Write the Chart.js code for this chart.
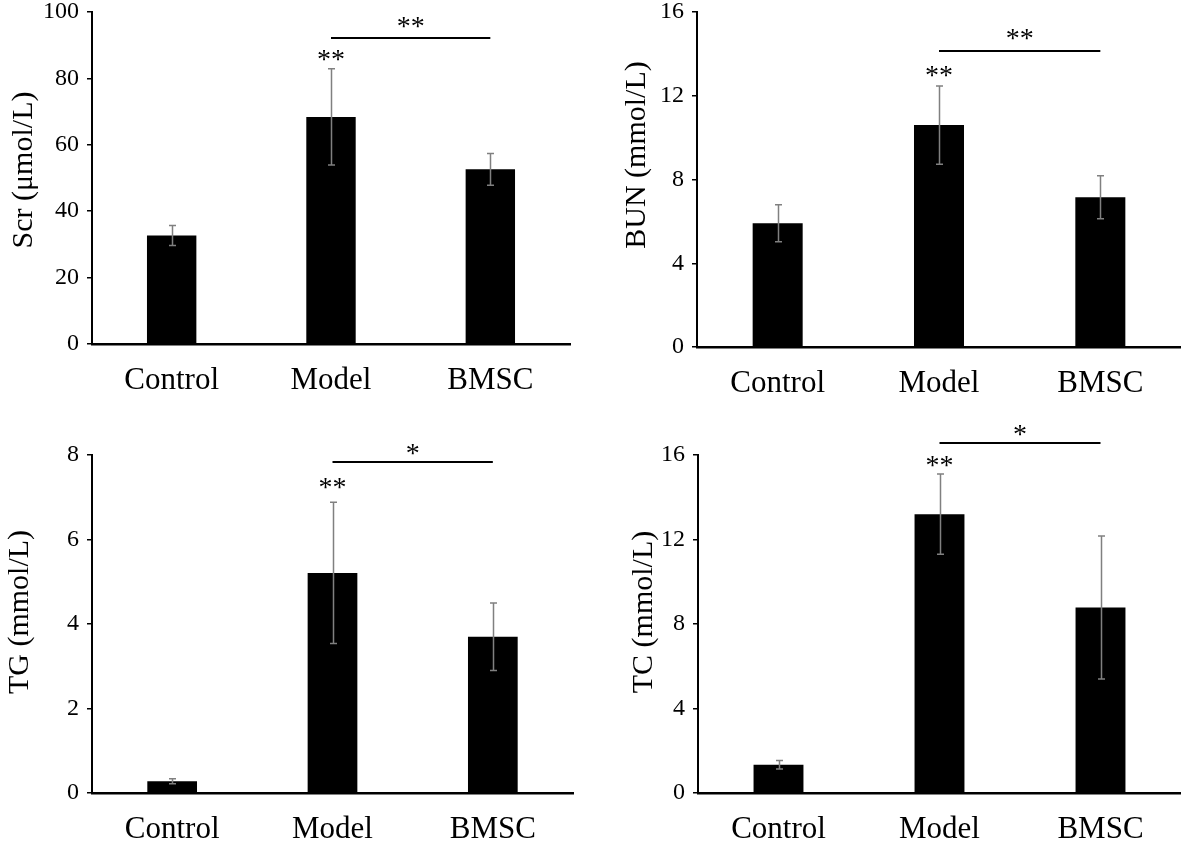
<!DOCTYPE html>
<html>
<head>
<meta charset="utf-8">
<script src="https://cdn.jsdelivr.net/npm/chart.js@4.4.0/dist/chart.umd.min.js"></script>
<style>
  html, body { margin: 0; padding: 0; background: #fff; }
  #wrap { position: relative; width: 1181px; height: 843px; }
  canvas { position: absolute; }
</style>
</head>
<body>
<div id="wrap">
  <canvas id="scrChart" width="590" height="420" style="left:0;top:0"></canvas>
  <canvas id="bunChart" width="591" height="420" style="left:590px;top:0"></canvas>
  <canvas id="tgChart" width="590" height="423" style="left:0;top:420px"></canvas>
  <canvas id="tcChart" width="591" height="423" style="left:590px;top:420px"></canvas>
</div>
<script>
// groups and values (mean, error bar half-length)
const groups = ["Control", "Model", "BMSC"];
const scrMean = [32.7, 68.4, 52.6];
const scrErr = [3.0, 14.5, 4.8];
const bunMean = [5.91, 10.6, 7.15];
const bunErr = [0.88, 1.87, 1.03];
const tgMean = [0.28, 5.21, 3.7];
const tgErr = [0.06, 1.67, 0.8];
const tcMean = [1.34, 13.2, 8.78];
const tcErr = [0.2, 1.9, 3.38];

// y axis: max and step
const scrAxis = [100, 20];
const bunAxis = [16, 4];
const tgAxis = [8, 2];
const tcAxis = [16, 4];

// significance marks: Model vs Control, Model vs BMSC
const modelMarks = ["**", "**", "**", "**"];
const pairMarks = ["**", "**", "*", "*"];

const serif = "'Liberation Serif', 'Times New Roman', serif";

// error bars, significance marks and rotated y title
const extras = {
  id: "extras",
  afterDatasetsDraw(chart, args, o) {
    const ctx = chart.ctx;
    const y = chart.scales.y;
    const bars = chart.getDatasetMeta(0).data;
    ctx.save();
    ctx.strokeStyle = "#808080";
    ctx.lineWidth = 1.5;
    o.mean.forEach((m, i) => {
      const px = Math.round(bars[i].x) + 0.5;
      const top = y.getPixelForValue(m + o.err[i]);
      const bot = y.getPixelForValue(m - o.err[i]);
      ctx.beginPath();
      ctx.moveTo(px, top);
      ctx.lineTo(px, bot);
      ctx.moveTo(px - 3.5, top);
      ctx.lineTo(px + 3.5, top);
      ctx.moveTo(px - 3.5, bot);
      ctx.lineTo(px + 3.5, bot);
      ctx.stroke();
    });

    const xm = bars[1].x;
    const xb = bars[2].x;
    ctx.fillStyle = "#000";
    ctx.font = "28px " + serif;
    ctx.textAlign = "center";
    ctx.textBaseline = "alphabetic";
    // asterisks sit high in the em box, shift the baseline down
    const lift = 28 * 0.47;
    ctx.fillText(o.modelMark, xm, y.getPixelForValue(o.markAt) + lift);
    const ly = Math.round(y.getPixelForValue(o.lineAt));
    ctx.strokeStyle = "#000";
    ctx.lineWidth = 2;
    ctx.beginPath();
    ctx.moveTo(xm, ly);
    ctx.lineTo(xb, ly);
    ctx.stroke();
    ctx.fillText(o.pairMark, (xm + xb) / 2, y.getPixelForValue(o.pairAt) + lift);

    ctx.translate(o.titleX, o.titleY);
    ctx.rotate(-Math.PI / 2);
    ctx.textBaseline = "middle";
    ctx.font = "30px " + serif;
    ctx.fillText(o.title, 0, 0);
    ctx.restore();
  }
};

function makePanel(id, p) {
  const ctx = document.getElementById(id).getContext("2d");
  const w = ctx.canvas.width;
  const h = ctx.canvas.height;
  return new Chart(ctx, {
    type: "bar",
    data: {
      labels: groups,
      datasets: [
        {
          data: p.mean,
          backgroundColor: "#000",
          borderWidth: 0,
          barPercentage: 0.31,
          categoryPercentage: 1,
        },
      ],
    },
    options: {
      responsive: false,
      animation: false,
      events: [],
      layout: {
        padding: { left: 0, top: p.area[2], right: w - p.area[1], bottom: 0 },
      },
      scales: {
        y: {
          min: 0,
          max: p.axis[0],
          afterFit: (s) => {
            s.width = p.area[0];
            // let the top tick label hang over the padding
            s.paddingTop = 0;
            s.paddingBottom = 0;
          },
          ticks: {
            stepSize: p.axis[1],
            color: "#000",
            padding: 8,
            font: { family: serif, size: 24 },
          },
          grid: {
            drawOnChartArea: false,
            drawTicks: true,
            tickLength: 5,
            color: "#000",
            lineWidth: 1.5,
          },
          border: { color: "#000", width: 2 },
        },
        x: {
          afterFit: (s) => { s.height = h - p.area[3]; },
          ticks: {
            color: "#000",
            padding: 10,
            font: { family: serif, size: 31 },
          },
          grid: { display: false },
          border: { color: "#000", width: 2.5 },
        },
      },
      plugins: {
        legend: { display: false },
        tooltip: { enabled: false },
        extras: {
          mean: p.mean,
          err: p.err,
          modelMark: p.modelMark,
          pairMark: p.pairMark,
          markAt: p.marks[0],
          lineAt: p.marks[1],
          pairAt: p.marks[2],
          title: p.title,
          titleX: p.titlePos[0],
          titleY: p.titlePos[1],
        },
      },
    },
    plugins: [extras],
  });
}

document.addEventListener("DOMContentLoaded", function () {
  // area: [left, right, top, bottom] of the plot inside each canvas
  makePanel("scrChart", {
    mean: scrMean, err: scrErr, axis: scrAxis,
    modelMark: modelMarks[0], pairMark: pairMarks[0],
    marks: [87, 92.2, 97],
    area: [92, 570, 12, 344],
    title: "Scr (μmol/L)", titlePos: [24, 170],
  });
  makePanel("bunChart", {
    mean: bunMean, err: bunErr, axis: bunAxis,
    modelMark: modelMarks[1], pairMark: pairMarks[1],
    marks: [13.2, 14.15, 14.94],
    area: [107, 591, 12, 347],
    title: "BUN (mmol/L)", titlePos: [47, 155],
  });
  makePanel("tgChart", {
    mean: tgMean, err: tgErr, axis: tgAxis,
    modelMark: modelMarks[2], pairMark: pairMarks[2],
    marks: [7.33, 7.83, 8.15],
    area: [92, 573, 35, 373],
    title: "TG (mmol/L)", titlePos: [20, 192],
  });
  makePanel("tcChart", {
    mean: tcMean, err: tcErr, axis: tcAxis,
    modelMark: modelMarks[3], pairMark: pairMarks[3],
    marks: [15.7, 16.55, 17.2],
    area: [108, 591, 35, 373],
    title: "TC (mmol/L)", titlePos: [54, 192],
  });
});
</script>
</body>
</html>
